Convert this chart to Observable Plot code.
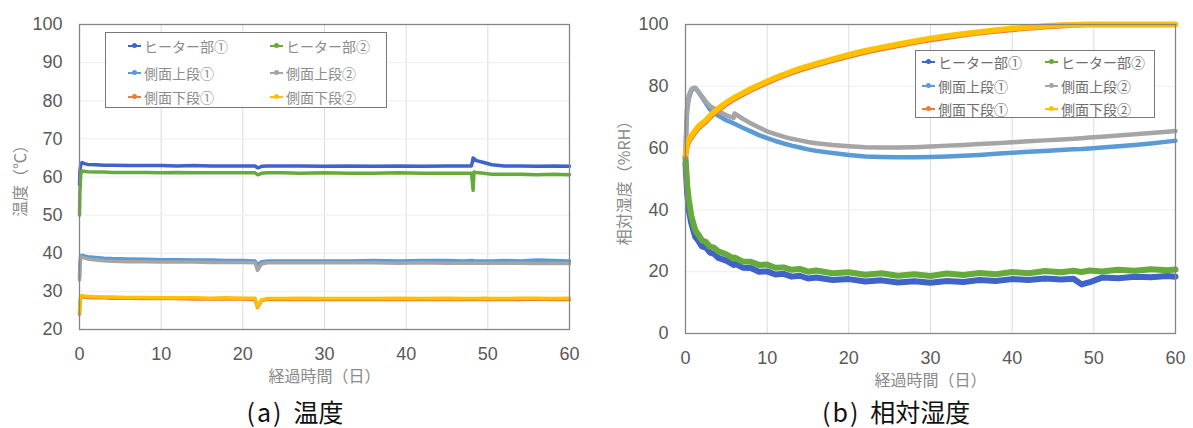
<!DOCTYPE html>
<html><head><meta charset="utf-8">
<script src="https://cdn.jsdelivr.net/npm/d3@7"></script>
<script src="https://cdn.jsdelivr.net/npm/@observablehq/plot@0.6"></script>
<style>
body{margin:0;background:#fff;font-family:"Noto Sans CJK JP",sans-serif;}
#wrap{position:relative;width:1193px;height:428px;overflow:hidden;}
.panel{position:absolute;top:0;}
.panel svg g[aria-label="x-axis label"] text,.panel svg g[aria-label="y-axis label"] text{font-size:16px;fill:#8a8a8a;font-family:"Noto Sans CJK JP",sans-serif;}
.legend{position:absolute;border:1.5px solid #777;background:#fff;box-sizing:border-box;}
.item{position:absolute;height:20px;display:flex;align-items:center;font-size:14px;white-space:nowrap;}
.mk{position:relative;width:13px;height:2px;margin-right:3px;}
.mk:after{content:"";position:absolute;left:4px;top:-2px;width:5px;height:5px;border-radius:50%;background:inherit;}
.cap{position:absolute;top:397px;font-size:25px;line-height:28px;color:#111;white-space:nowrap;}
.cap .p{letter-spacing:2px;margin-right:10px;}
</style></head>
<body><div id="wrap"></div>
<script>
// ---- data ----
const seriesNames = ["ヒーター部①","ヒーター部②","側面上段①","側面上段②","側面下段①","側面下段②"];
const seriesColors = ["#3f63c8","#66aa3c","#5b9bd5","#a5a5a5","#ed7d31","#ffc000"];
const xTicks = [0,10,20,30,40,50,60];
const tTicks = [20,30,40,50,60,70,80,90,100];
const rTicks = [0,20,40,60,80,100];

// (a) temperature, days
const tDays = [0,0.05,0.15,0.3,0.6,1,2,3,4,6,
  8,10,12,14,16,18,20,21.5,21.8,22.0,
  22.3,23,25,27,30,33,36,39,42,45,
  47,48.0,48.2,48.3,48.6,49.5,50.5,52,54,56,
  58,60];
const tHeater1 = [58.0,61.5,63.2,63.8,63.5,63.3,63.2,63.1,63.1,63.0,
  63.0,63.0,62.9,63.0,62.9,62.9,62.9,62.9,62.4,62.5,
  62.8,62.9,62.9,62.9,62.8,62.9,62.8,62.9,62.8,62.9,
  62.9,62.9,65.0,64.8,64.3,63.8,63.2,62.9,62.9,62.8,
  62.9,62.8];
const tHeater2 = [50.0,56.0,60.5,61.6,61.5,61.4,61.3,61.3,61.2,61.2,
  61.2,61.1,61.2,61.1,61.1,61.1,61.1,61.1,60.6,60.7,
  61.0,61.1,61.1,61.0,61.1,61.0,61.0,61.1,61.0,61.0,
  61.0,61.0,56.5,61.3,61.2,61.0,60.7,60.7,60.7,60.6,
  60.7,60.6];
const tUpper1 = [33.5,37.0,39.2,39.5,39.3,39.1,38.9,38.7,38.6,38.5,
  38.4,38.3,38.3,38.2,38.2,38.1,38.1,38.0,37.0,37.3,
  37.8,38.0,38.0,38.0,38.0,38.0,38.1,38.0,38.1,38.1,
  38.0,38.1,38.1,38.0,38.0,38.0,38.0,38.1,38.0,38.2,
  38.1,38.0];
const tUpper2 = [33.0,36.5,38.7,39.0,38.8,38.5,38.2,38.0,37.9,37.8,
  37.8,37.7,37.7,37.7,37.6,37.6,37.6,37.5,35.5,36.2,
  37.2,37.5,37.5,37.5,37.5,37.5,37.5,37.4,37.5,37.4,
  37.4,37.4,37.4,37.4,37.4,37.4,37.4,37.4,37.4,37.3,
  37.3,37.3];
const tLower1 = [24.0,26.5,28.4,28.6,28.5,28.4,28.3,28.3,28.2,28.2,
  28.1,28.1,28.1,28.0,28.0,28.0,28.0,27.9,25.8,26.5,
  27.6,27.9,27.9,27.9,27.9,27.9,27.9,27.9,27.9,27.9,
  27.9,27.9,27.9,27.9,27.9,27.9,27.9,27.9,27.9,28.0,
  27.9,27.9];
const tLower2 = [24.5,27.0,28.7,28.9,28.8,28.7,28.6,28.5,28.5,28.4,
  28.4,28.3,28.3,28.3,28.2,28.3,28.2,28.2,26.0,26.6,
  27.8,28.1,28.1,28.2,28.1,28.1,28.1,28.2,28.1,28.2,
  28.1,28.1,28.1,28.1,28.1,28.2,28.1,28.1,28.2,28.2,
  28.1,28.2];

// (b) relative humidity, days
const rDays = [0,0.1,0.2,0.4,0.7,1.0,1.2,1.5,2,2.5,
  3,3.5,4,5,5.9,6,7,8,9,10,
  11,12,13,14,15,16,18,20,22,24,
  26,28,30,32,34,36,38,40,42,44,
  46,47.5,48.5,49.5,51,53,55,57,59,60];
const rHeater1 = [55.0,50.0,45.5,40.0,35.8,33.0,31.2,30.3,28.2,27.8,
  26.2,25.8,24.5,23.6,22.2,22.7,21.3,21.2,20.0,20.1,
  19.1,19.3,18.4,18.7,17.8,18.1,17.3,17.6,16.8,17.2,
  16.5,16.9,16.4,17.0,16.7,17.3,17.0,17.6,17.3,17.8,
  17.5,17.7,15.9,16.6,18.1,17.9,18.4,18.2,18.6,18.4];
const rHeater2 = [57.0,52.5,48.0,43.5,38.2,35.3,33.4,32.3,30.2,29.6,
  28.1,27.8,26.6,25.6,24.2,24.6,23.3,23.2,22.2,22.3,
  21.3,21.4,20.6,20.9,20.0,20.4,19.5,19.8,19.0,19.5,
  18.7,19.2,18.6,19.4,18.9,19.6,19.2,19.9,19.5,20.2,
  19.8,20.3,19.9,20.4,20.1,20.6,20.3,20.8,20.5,20.7];
const rUpper1 = [58.0,66.0,72.0,76.0,78.5,79.3,79.5,78.5,76.5,74.5,
  72.5,71.5,70.5,69.0,68.0,67.9,66.6,65.4,64.2,63.2,
  62.3,61.5,60.8,60.2,59.6,59.1,58.4,57.8,57.3,57.1,
  57.0,57.0,57.1,57.3,57.5,57.8,58.2,58.5,58.8,59.1,
  59.4,59.6,59.7,59.9,60.2,60.6,61.0,61.5,62.1,62.4];
const rUpper2 = [59.0,67.0,73.0,77.0,79.0,79.5,79.4,78.5,76.8,75.0,
  73.6,72.8,72.0,70.6,69.8,71.2,69.5,68.0,66.7,65.4,
  64.5,63.7,63.0,62.5,62.0,61.6,61.0,60.6,60.3,60.2,
  60.2,60.3,60.5,60.8,61.0,61.3,61.6,61.9,62.2,62.5,
  62.8,63.0,63.2,63.4,63.7,64.1,64.5,64.9,65.3,65.5];
const rLower1 = [57.5,59.3,60.8,62.2,63.4,64.5,65.3,66.3,67.5,68.6,
  70.0,71.2,72.3,74.3,75.8,75.9,77.4,78.8,80.0,81.2,
  82.4,83.4,84.4,85.3,86.1,86.9,88.4,89.8,91.1,92.2,
  93.2,94.2,95.1,95.9,96.7,97.3,97.9,98.4,98.9,99.3,
  99.6,99.8,99.9,100,100,100,100,100,100,100];
const rLower2 = [58.0,60.0,61.5,62.8,64.0,65.0,65.8,66.8,68.0,69.0,
  70.5,71.7,72.8,74.8,76.3,76.4,77.8,79.2,80.4,81.6,
  82.8,83.8,84.8,85.7,86.5,87.3,88.8,90.2,91.5,92.6,
  93.6,94.6,95.5,96.3,97.0,97.6,98.2,98.7,99.1,99.5,
  99.8,99.9,100,100,100,100,100,100,100,100];

// ---- build ----
const toRows = (days, vals) => days.map((d,i)=>({day:d, v:vals[i]}));
const tSeries = [tHeater1,tHeater2,tUpper1,tUpper2,tLower1,tLower2].map(v=>toRows(tDays,v));
const rSeries = [rHeater1,rHeater2,rUpper1,rUpper2,rLower1,rLower2].map(v=>toRows(rDays,v));

function widthsFor(i, rh){ return rh ? (i<2 ? 6 : (i>=4 ? 5.5 : 4.5)) : 3.5; }

function panel({series, yDomain, yTicks, yLabel, marginLeft, marginRight, width, height, marginBottom, yLabelOffset, rh}) {
  return Plot.plot({
    width, height,
    marginLeft, marginRight, marginTop: 24, marginBottom,
    style:{fontFamily:"'Liberation Sans', Arial, sans-serif", fontSize:"18px", color:"#595959", background:"transparent"},
    x:{domain:[0,60]},
    y:{domain:yDomain},
    marks:[
      Plot.gridX(xTicks,{stroke:"#dcdcdc", strokeOpacity:1}),
      Plot.gridY(yTicks,{stroke:"#eeeeee", strokeOpacity:1}),
      ...series.map((rows,i)=>Plot.line(rows,{x:"day", y:"v", stroke:seriesColors[i], strokeWidth: widthsFor(i, rh), strokeLinejoin:"round", strokeLinecap:"round"})),
      Plot.frame({stroke:"#858585", strokeWidth:1.3}),
      Plot.axisX(xTicks,{tickSize:0, tickPadding:18, label:"経過時間（日）", labelAnchor:"center", labelOffset:52, labelArrow:"none"}),
      Plot.axisY(yTicks,{tickSize:0, tickPadding:17, label:yLabel, labelAnchor:"center", labelOffset:yLabelOffset, labelArrow:"none"})
    ]
  });
}

const wrap = document.getElementById("wrap");
function place(node, left){ const d=document.createElement("div"); d.className="panel"; d.style.left=left+"px"; d.appendChild(node); wrap.appendChild(d); }

place(panel({series:tSeries, yDomain:[20,100], yTicks:tTicks, yLabel:"温度（℃）", marginLeft:79, marginRight:21, width:590, height:392, marginBottom:63, yLabelOffset:65, rh:false}), 0);
place(panel({series:rSeries, yDomain:[0,100], yTicks:rTicks, yLabel:"相対湿度（%RH）", marginLeft:95, marginRight:18, width:603, height:392, marginBottom:59, yLabelOffset:67, rh:true}), 590);

function legend(left, top, w, h, rowYs, colXs, color){
  const L=document.createElement("div"); L.className="legend";
  Object.assign(L.style,{left:left+"px",top:top+"px",width:w+"px",height:h+"px"});
  seriesNames.forEach((name,i)=>{
    const it=document.createElement("div"); it.className="item";
    it.style.left=colXs[i%2]+"px"; it.style.top=(rowYs[Math.floor(i/2)]-10)+"px"; it.style.color=color;
    const mk=document.createElement("span"); mk.className="mk"; mk.style.background=seriesColors[i];
    it.appendChild(mk); it.appendChild(document.createTextNode(name)); L.appendChild(it);
  });
  wrap.appendChild(L);
}
legend(105,32,282,76,[13,40,64],[22,164],"#8c8c8c");
legend(915,50,240,68,[11,35,58],[6,129],"#6e6e6e");

function caption(label, text, center){
  const c=document.createElement("div"); c.className="cap";
  const p=document.createElement("span"); p.className="p"; p.textContent=label;
  c.appendChild(p); c.appendChild(document.createTextNode(text)); wrap.appendChild(c);
  c.style.left=(center - c.offsetWidth/2)+"px";
}
caption("(a)", "温度", 295);
caption("(b)", "相対湿度", 896);
</script></body></html>
